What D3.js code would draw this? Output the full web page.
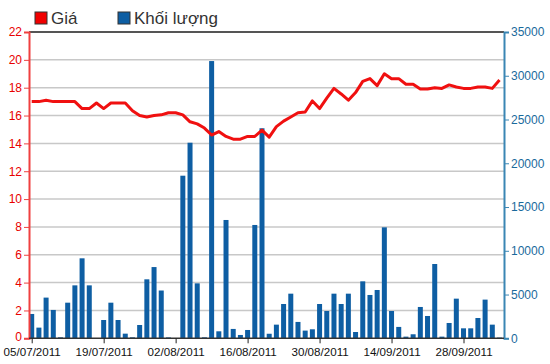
<!DOCTYPE html>
<html><head><meta charset="utf-8">
<script src="https://cdn.jsdelivr.net/npm/d3@7/dist/d3.min.js"></script>
<style>body{margin:0;background:#fff}svg{display:block}text{font-family:"Liberation Sans",Arial,sans-serif}</style>
</head><body><svg id="c" width="550" height="364"></svg>
<script>
const dates = ["05/07/2011","06/07/2011","07/07/2011","08/07/2011","11/07/2011","12/07/2011","13/07/2011","14/07/2011","15/07/2011","18/07/2011",
"19/07/2011","20/07/2011","21/07/2011","22/07/2011","25/07/2011","26/07/2011","27/07/2011","28/07/2011","29/07/2011","01/08/2011",
"02/08/2011","03/08/2011","04/08/2011","05/08/2011","08/08/2011","09/08/2011","10/08/2011","11/08/2011","12/08/2011","15/08/2011",
"16/08/2011","17/08/2011","18/08/2011","19/08/2011","22/08/2011","23/08/2011","24/08/2011","25/08/2011","26/08/2011","29/08/2011",
"30/08/2011","31/08/2011","01/09/2011","05/09/2011","06/09/2011","07/09/2011","08/09/2011","09/09/2011","12/09/2011","13/09/2011",
"14/09/2011","15/09/2011","16/09/2011","19/09/2011","20/09/2011","21/09/2011","22/09/2011","23/09/2011","26/09/2011","27/09/2011",
"28/09/2011","29/09/2011","30/09/2011","03/10/2011","04/10/2011","05/10/2011"];
const price = [17.0,17.0,17.1,17.0,17.0,17.0,17.0,16.5,16.5,16.9,
16.5,16.9,16.9,16.9,16.35,16.0,15.9,16.0,16.05,16.2,
16.2,16.05,15.55,15.4,15.1,14.6,14.85,14.5,14.3,14.3,
14.5,14.5,14.95,14.45,15.2,15.6,15.9,16.2,16.25,17.05,
16.5,17.25,17.95,17.55,17.1,17.65,18.45,18.65,18.15,19.0,
18.65,18.65,18.25,18.25,17.9,17.9,18.0,17.95,18.2,18.05,
17.95,17.95,18.05,18.05,17.95,18.55];
const volume = [2780,1220,4650,3240,110,4070,6050,9140,6050,0,
2090,4070,2090,530,110,1520,6740,8140,5460,100,
0,18580,22350,6280,110,31680,800,13520,1070,380,
950,12950,24000,520,1560,3920,5100,1870,880,1030,
3920,3120,5100,3920,5100,720,6510,4950,5520,12680,
3120,1300,190,460,3580,2550,8490,190,1750,4530,
1140,1140,2320,4420,1560,80];
const tickDates = ["05/07/2011","19/07/2011","02/08/2011","16/08/2011","30/08/2011","14/09/2011","28/09/2011"];
const priceTicks = [0,2,4,6,8,10,12,14,16,18,20,22];
const volumeTicks = [0,5000,10000,15000,20000,25000,30000,35000];
const legendLabels = ["Giá","Khối lượng"];

const svg = d3.select("#c");
const L = 29, R = 504, T = 32, B = 338.3;
const x = d3.scalePoint().domain(dates).range([31.7, 499.5]);
const yP = d3.scaleLinear().domain([0,22]).range([B, T]);
const yV = d3.scaleLinear().domain([0,35000]).range([B, T]);

// gridlines
svg.append("g").selectAll("line").data(priceTicks.filter(d => d > 0 && d < 22)).join("line")
  .attr("x1", L).attr("x2", R).attr("y1", d => yP(d)).attr("y2", d => yP(d))
  .attr("stroke", "#c8c8c8").attr("stroke-width", 1.5);

// bars
const bw = 5;
svg.append("g").selectAll("rect").data(volume).join("rect")
  .attr("x", (d,i) => x(dates[i]) - bw/2).attr("width", bw)
  .attr("y", d => yV(d)).attr("height", d => B - yV(d))
  .attr("fill", "#0e5ea3");

// price line
svg.append("path").datum(price)
  .attr("d", d3.line().x((d,i) => x(dates[i])).y(d => yP(d)))
  .attr("fill", "none").attr("stroke", "#f01010").attr("stroke-width", 3).attr("stroke-linejoin", "round");

// top border
svg.append("line").attr("x1", L).attr("x2", R).attr("y1", T).attr("y2", T).attr("stroke", "#555").attr("stroke-width", 2);

// left axis
const gl = svg.append("g").attr("transform", `translate(${L},0)`)
  .call(d3.axisLeft(yP).tickValues(priceTicks).tickSize(5).tickPadding(2).tickFormat(d3.format("d")));
gl.select(".domain").attr("stroke", "#f04040").attr("stroke-width", 2);
gl.selectAll(".tick line").attr("stroke", "#f04040");
gl.selectAll(".tick text").attr("fill", "#e80000").style("font-size", "12px");
gl.selectAll(".tick text").filter(d => d === 0).attr("dy", "0.2em");

// right axis
const gr = svg.append("g").attr("transform", `translate(${R},0)`)
  .call(d3.axisRight(yV).tickValues(volumeTicks).tickSize(5).tickPadding(2).tickFormat(d3.format("d")));
gr.select(".domain").attr("stroke", "#3a86b4").attr("stroke-width", 2);
gr.selectAll(".tick line").attr("stroke", "#3a86b4");
gr.selectAll(".tick text").attr("fill", "#1a6a9c").style("font-size", "12px");

// bottom axis
svg.append("line").attr("x1", L).attr("x2", R).attr("y1", B).attr("y2", B).attr("stroke", "#333").attr("stroke-width", 1.5);
const gb = svg.append("g").attr("transform", `translate(0,${B})`)
  .call(d3.axisBottom(x).tickValues(tickDates).tickSize(5).tickPadding(4));
gb.select(".domain").remove();
gb.selectAll(".tick line").attr("stroke", "#222");
gb.selectAll(".tick text").attr("fill", "#111").style("font-size", "11.6px");

// legend
const leg = svg.append("g");
const legColors = ["#f00000", "#0e5ea3"];
const legX = [35, 118];
legendLabels.forEach((t, i) => {
  leg.append("rect").attr("x", legX[i]).attr("y", 12).attr("width", 12).attr("height", 12)
    .attr("fill", legColors[i]).attr("stroke", "#333").attr("stroke-width", 1);
  leg.append("text").attr("x", legX[i] + 16).attr("y", 24).text(t)
    .attr("fill", "#333").style("font-size", "17px");
});
</script></body></html>
